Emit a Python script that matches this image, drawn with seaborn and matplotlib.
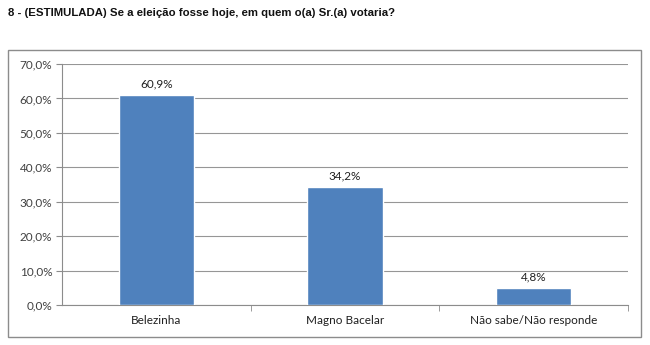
import matplotlib
matplotlib.use("Agg")
import matplotlib.pyplot as plt
import seaborn as sns
import pandas as pd
from matplotlib.patches import Rectangle
from matplotlib.ticker import FuncFormatter, MultipleLocator

categories = ["Belezinha", "Magno Bacelar", "Não sabe/Não responde"]
values = [60.9, 34.2, 4.8]
title = "8 - (ESTIMULADA) Se a eleição fosse hoje, em quem o(a) Sr.(a) votaria?"

df = pd.DataFrame({"cat": categories, "val": values})

sns.set_style("white")
plt.rcParams["font.family"] = ["Lato", "DejaVu Sans"]

fig = plt.figure(figsize=(6.5, 3.45), dpi=100)
fig.patch.set_facecolor("white")
ax = fig.add_axes([62/650, 1-305/345, (628-62)/650, (305-64)/345])

sns.barplot(data=df, x="cat", y="val", color="#4F81BD", width=0.4, saturation=1, ax=ax, zorder=3)

ax.set_ylim(0, 70)
ax.set_xlim(-0.5, 2.5)
ax.yaxis.set_major_locator(MultipleLocator(10))
ax.yaxis.set_major_formatter(FuncFormatter(lambda v, p: f"{v:.1f}%".replace(".", ",")))
ax.grid(axis="y", color="#969696", linewidth=0.8, zorder=0)
ax.set_axisbelow(True)
ax.set_xlabel("")
ax.set_ylabel("")
for s in ["top", "right"]:
    ax.spines[s].set_visible(False)
for s in ["left", "bottom"]:
    ax.spines[s].set_color("#8c8c8c")
    ax.spines[s].set_linewidth(0.8)

ax.tick_params(axis="y", which="major", length=4, color="#8c8c8c", labelsize=8.5, labelcolor="#404040", pad=3, left=True)
ax.tick_params(axis="x", which="major", length=0, labelsize=8.5, labelcolor="#202020", pad=7)
ax.set_xticks(range(len(categories)))
ax.set_xticklabels(categories)
ax.set_xticks([0.5, 1.5, 2.5], minor=True)
ax.tick_params(axis="x", which="minor", length=4, color="#8c8c8c", bottom=True)

for i, v in enumerate(values):
    ax.annotate(f"{v:.1f}%".replace(".", ","), (i, v), xytext=(0, 4), textcoords="offset points",
                ha="center", va="bottom", fontsize=8.5, color="#202020")

fig.text(8/650, 1-13/345, title, fontsize=8.2, fontweight="bold", family=["Liberation Sans", "DejaVu Sans"],
         ha="left", va="center", color="#111111")

fig.patches.append(Rectangle((8/650, 1-337/345), (641-8)/650, (337-50)/345, transform=fig.transFigure,
                             fill=False, edgecolor="#8c8c8c", linewidth=1.0))

fig.savefig("out.png", dpi=100)
